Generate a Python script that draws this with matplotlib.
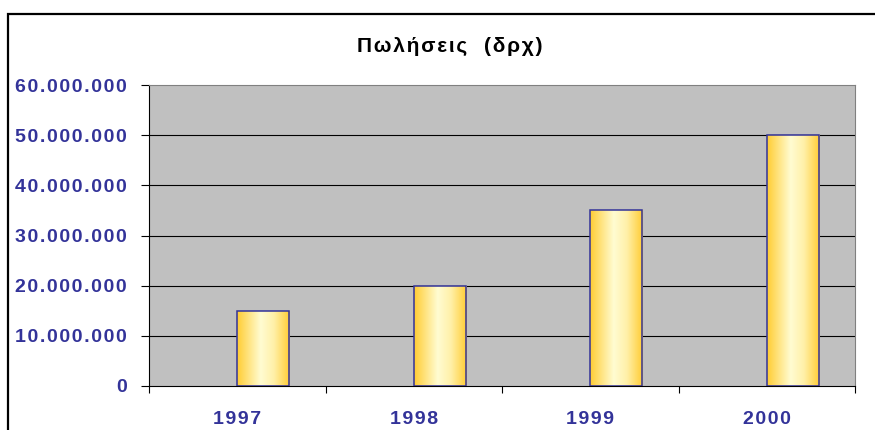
import matplotlib.pyplot as plt
import numpy as np
from matplotlib.colors import LinearSegmentedColormap
from matplotlib.patches import Rectangle
from matplotlib.ticker import FuncFormatter

plt.rcParams['font.family'] = ['Liberation Sans', 'DejaVu Sans']

years = ["1997", "1998", "1999", "2000"]
sales = [15000000, 20000000, 35000000, 50000000]
yticks = [0, 10000000, 20000000, 30000000, 40000000, 50000000, 60000000]
title = "Πωλήσεις  (δρχ)"

navy = "#333399"
HAIR = "\u200a"


def spaced(s):
    # the original uses wide letter spacing, fake it with hair spaces
    return HAIR.join(s)


fig = plt.figure(figsize=(8.75, 4.3), dpi=100)
ax = fig.add_axes([149 / 875, 44 / 430, 706 / 875, 301 / 430])
ax.set_facecolor("#C0C0C0")

# outer chart-area frame (runs off the right and bottom edges)
fig.patches.append(Rectangle((8 / 875, -0.1), 1.2, (430 - 14) / 430 + 0.1,
                             transform=fig.transFigure, fill=False,
                             edgecolor="black", linewidth=1.6))

x = np.arange(len(years))
bars = ax.bar(x, sales, width=0.295, align="edge", color="none",
              edgecolor=navy, linewidth=1.1, zorder=3)

# gold -> cream -> gold gradient inside each bar
cmap = LinearSegmentedColormap.from_list(
    "gold", [(0.0, "#FFCC33"), (0.2, "#FFE27A"), (0.45, "#FFFCD2"),
             (0.7, "#FFF0A8"), (1.0, "#FFCC33")])
grad = np.linspace(0, 1, 256).reshape(1, -1)
for b in bars:
    im = ax.imshow(grad, cmap=cmap, aspect="auto", zorder=2,
                   extent=[b.get_x(), b.get_x() + b.get_width(), 0, b.get_height()])
    im.set_clip_path(b)

ax.set_xlim(-0.5, 3.5)
ax.set_ylim(0, 60000000)
ax.set_aspect("auto")

ax.hlines(yticks[1:-1], -0.5, 3.5, colors="black", linewidth=0.8, zorder=1)

ax.set_yticks(yticks)
ax.yaxis.set_major_formatter(
    FuncFormatter(lambda v, p: spaced(f"{int(v):,}".replace(",", "."))))
ax.tick_params(axis="y", direction="out", length=6, width=0.8, pad=10,
               labelsize=14, labelcolor=navy)
for t in ax.get_yticklabels():
    t.set_fontweight("bold")

ax.set_xticks(x)
ax.set_xticklabels([spaced(y) for y in years], fontsize=14, fontweight="bold", color=navy)
ax.set_xticks(np.arange(-0.5, 4.0, 1.0), minor=True)
ax.tick_params(axis="x", which="major", length=0, pad=18)
ax.tick_params(axis="x", which="minor", direction="out", length=5, width=0.8)

ax.spines["left"].set_color("black")
ax.spines["bottom"].set_color("black")
ax.spines["top"].set_color("#808080")
ax.spines["right"].set_color("#808080")

fig.text(450 / 875, 1 - 46 / 430, spaced(title), ha="center", va="center",
         fontsize=15, fontweight="bold", color="black")

fig.savefig("out.png", dpi=100)
